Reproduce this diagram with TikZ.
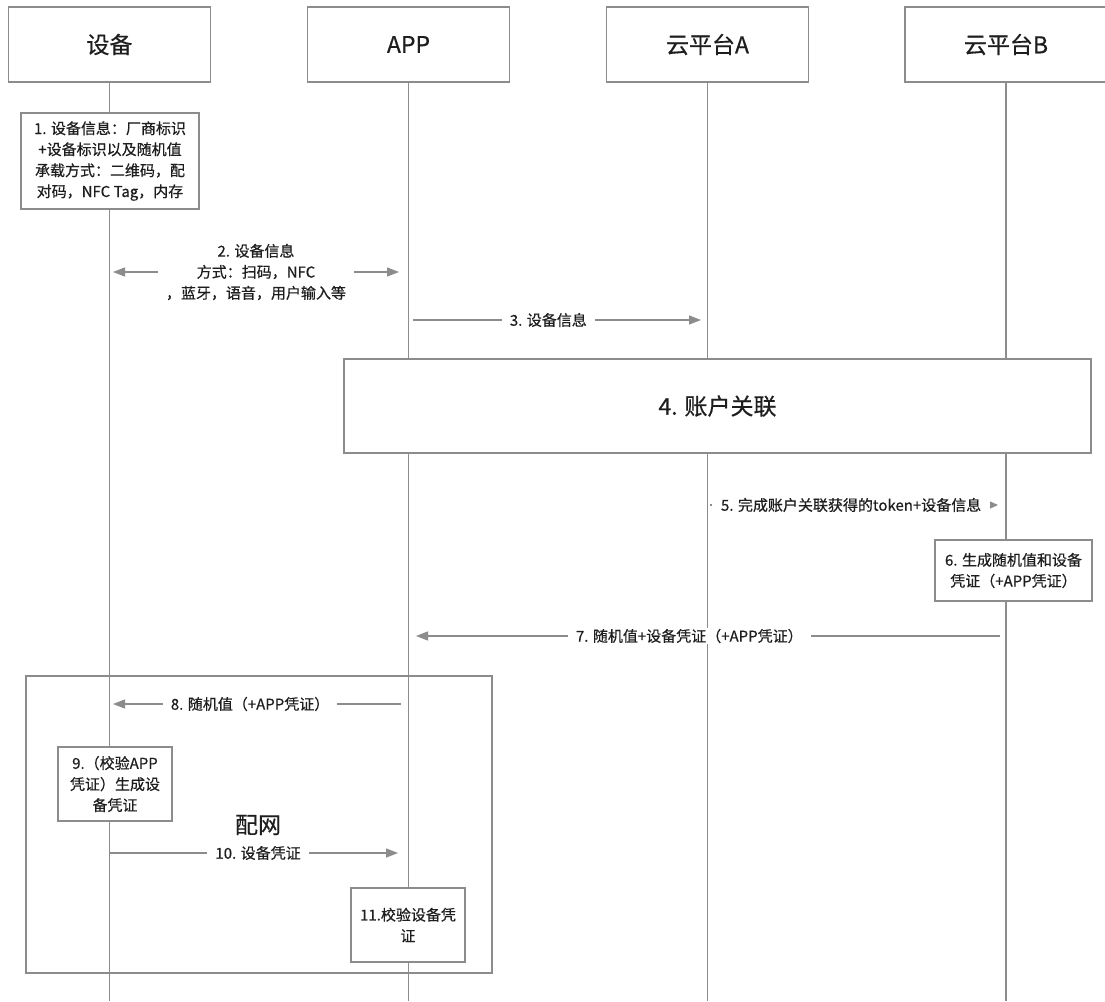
\documentclass[tikz,border=0pt]{standalone}
\usepackage{fontspec}
\setmainfont{Noto Sans CJK SC}[FakeBold=0.5]
\usetikzlibrary{arrows.meta}
\definecolor{ln}{HTML}{8C8C8C}
\definecolor{txt}{HTML}{1E1E1E}
\tikzset{
  hdr/.style={draw=ln, line width=1.2pt, fill=white, minimum width=202pt, minimum height=75pt, inner sep=0pt, text=txt, font=\fontsize{23}{28}\selectfont},
  stepbox/.style={draw=ln, line width=1.2pt, fill=white, inner sep=0pt, align=center, text=txt, font=\fontsize{15}{21}\selectfont},
  life/.style={draw=ln, line width=1.2pt},
  msg/.style={draw=ln, line width=1.2pt, -{Triangle[length=12pt,width=9pt]}},
  msgsmall/.style={draw=ln, line width=1.2pt, -{Triangle[length=8pt,width=7pt]}},
  lbl/.style={fill=white, inner xsep=8pt, inner ysep=1pt, align=center, text=txt, font=\fontsize{15}{21}\selectfont},
  frame/.style={draw=ln, line width=1.2pt},
}
\begin{document}
\begin{tikzpicture}[x=1pt,y=-1pt]
\clip (0,0) rectangle (1105,1001);
\fill[white] (0,0) rectangle (1105,1001);
% headers
\node[hdr] (h1) at (109.5,44.5) {设备};
\node[hdr] (h2) at (408.5,44.5) {APP};
\node[hdr] (h3) at (707.5,44.5) {云平台A};
\node[hdr] (h4) at (1006,44.5) {云平台B};
% lifeline ends
\coordinate (e1) at (109.5,1001);
\coordinate (e2) at (408.5,1001);
\coordinate (e3) at (707.5,1001);
\coordinate (e4) at (1006,1001);
\draw[life] (h1.south) -- (e1);
\draw[life] (h2.south) -- (e2);
\draw[life] (h3.south) -- (e3);
\draw[life] (h4.south) -- (e4);
% frame
\draw[frame] (26,676) rectangle (492,973);
\node[text=txt, font=\fontsize{23}{28}\selectfont] (pw) at (258,825) {配网};
% boxes
\node[stepbox, minimum width=178pt, minimum height=96pt] (b1) at (110,161)
  {1. 设备信息：厂商标识\\+设备标识以及随机值\\承载方式：二维码，配\\对码，NFC Tag，内存};
\node[stepbox, minimum width=747pt, minimum height=94pt, font=\fontsize{23}{28}\selectfont] (b4) at (717.5,406) {4. 账户关联};
\node[stepbox, minimum width=157pt, minimum height=61pt] (b6) at (1013.5,570.5)
  {6. 生成随机值和设备\\凭证（+APP凭证）};
\node[stepbox, minimum width=114pt, minimum height=74pt] (b9) at (115,784)
  {9.（校验APP\\凭证）生成设\\备凭证};
\node[stepbox, minimum width=114pt, minimum height=74pt] (b11) at (408,925)
  {11.校验设备凭\\证};
% message end points
\coordinate (m2a) at (113,272);
\coordinate (m2b) at (399,272);
\coordinate (m3a) at (413,320);
\coordinate (m3b) at (701,320);
\coordinate (m5a) at (710,505);
\coordinate (m5b) at (998,505);
\coordinate (m7a) at (1000,636);
\coordinate (m7b) at (416,636);
\coordinate (m8a) at (401,704);
\coordinate (m8b) at (113,704);
\coordinate (m10a) at (109.5,853);
\coordinate (m10b) at (398,853);
% messages
\draw[msg, {Triangle[length=12pt,width=9pt]}-{Triangle[length=12pt,width=9pt]}] (m2a) -- node[lbl] (l2) {2. 设备信息\\方式：扫码，NFC\\，蓝牙，语音，用户输入等} (m2b);
\draw[msg] (m3a) -- node[lbl, pos=0.47] (l3) {3. 设备信息} (m3b);
\draw[msgsmall] (m5a) -- node[lbl, inner xsep=9pt, pos=0.49] (l5) {5. 完成账户关联获得的token+设备信息} (m5b);
\draw[msg] (m7a) -- node[lbl, pos=0.532] (l7) {7. 随机值+设备凭证（+APP凭证）} (m7b);
\draw[msg] (m8a) -- node[lbl, pos=0.524] (l8) {8. 随机值（+APP凭证）} (m8b);
\draw[msg] (m10a) -- node[lbl, pos=0.515] (l10) {10. 设备凭证} (m10b);
\end{tikzpicture}
\end{document}
